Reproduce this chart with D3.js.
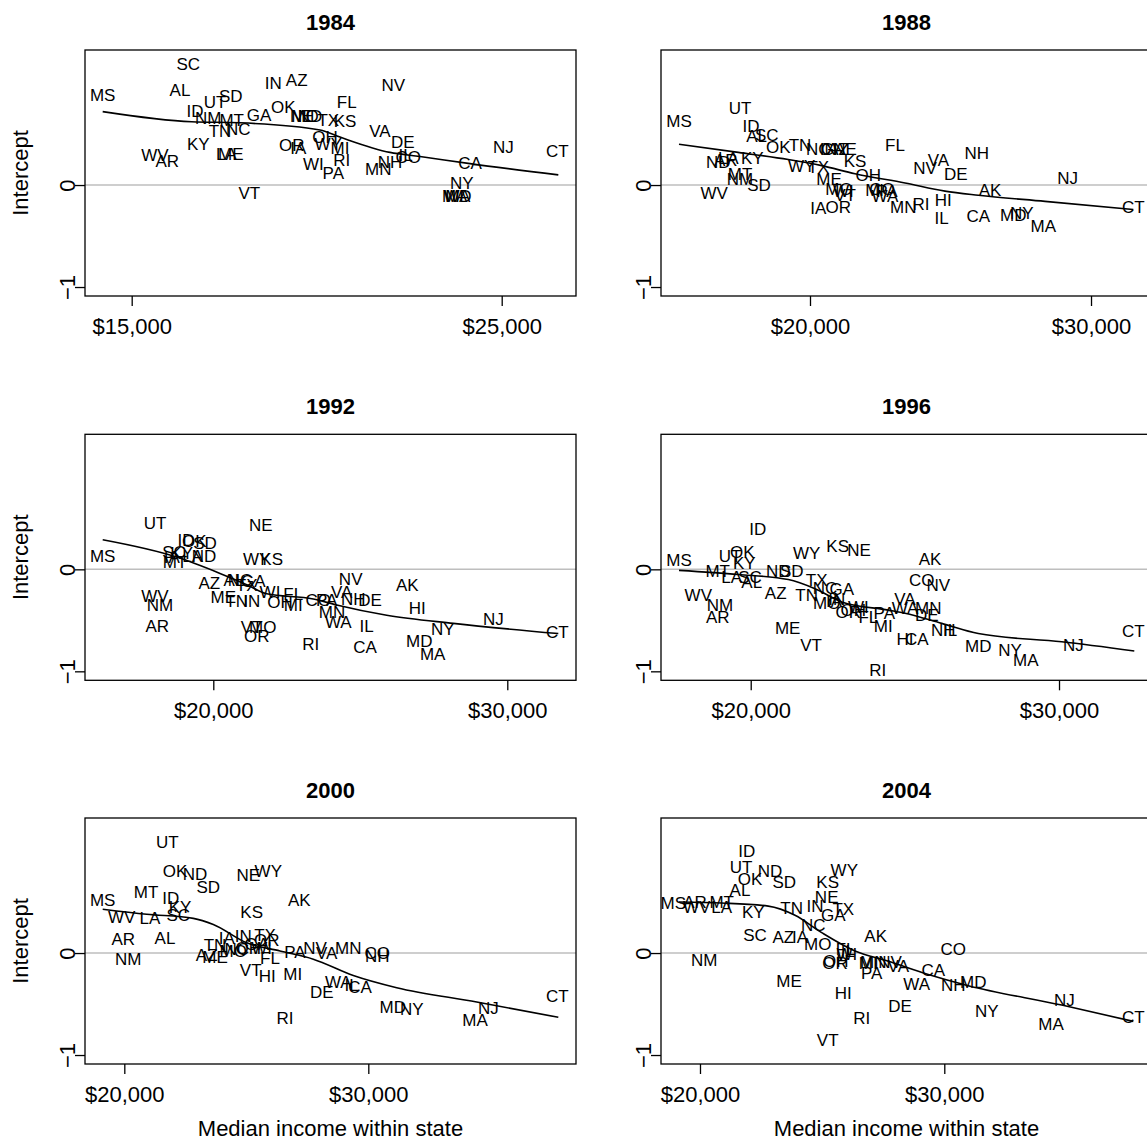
<!DOCTYPE html>
<html>
<head>
<meta charset="utf-8">
<script src="https://cdn.jsdelivr.net/npm/d3@7"></script>
<style>
  body { margin: 0; background: #fff; }
  text { font-family: "Liberation Sans", Arial, Helvetica, sans-serif; }
</style>
</head>
<body>
<script>
// ---- data ----
const years = ['1984', '1988', '1992', '1996', '2000', '2004'];

const states1984 = ['SC','MS','AL','IN','AZ','SD','UT','ID','NM','MT','GA','OK','NE','MO','ND','TX','KS','FL','TN','NC','KY','LA','ME','WV','AR','OR','IA','OH','WI','PA','WY','MI','RI','NV','VA','DE','NH','MN','IL','CO','CA','NJ','CT','NY','MD','MA','WA','VT'];
const income1984 = [16530,14216,16305,18827,19459,17676,17251,16711,17070,17703,18441,19097,19600,19684,19819,20314,20765,20811,17386,17881,16800,17560,17680,15630,15962,19324,19503,20224,19909,20449,20314,20630,20676,22071,21711,22324,21981,21665,22400,22476,24143,25043,26503,23919,23830,23730,23790,18178];
const intercept1984 = [1.19,0.88,0.93,1.00,1.03,0.87,0.82,0.73,0.66,0.64,0.69,0.77,0.68,0.68,0.68,0.64,0.63,0.82,0.53,0.55,0.40,0.31,0.31,0.30,0.24,0.39,0.36,0.47,0.21,0.12,0.40,0.36,0.25,0.98,0.53,0.42,0.23,0.16,0.30,0.28,0.22,0.37,0.33,0.02,-0.11,-0.11,-0.11,-0.08];
const fitX1984 = [14216,16622,17927,20089,20630,21981,22792,24143,26530];
const fitY1984 = [0.72,0.62,0.61,0.54,0.47,0.32,0.28,0.21,0.10];

const states1988 = ['MS','UT','ID','AL','SC','OK','TN','NC','IN','GA','AZ','NE','ND','LA','AR','KY','MT','NM','SD','WV','WY','TX','KS','ME','OH','MO','WI','VT','IA','OR','FL','CO','PA','WA','MI','MN','RI','NV','VA','NH','DE','HI','IL','AK','CA','MD','NY','MA','NJ','CT'];
const income1988 = [15338,17509,17900,18103,18459,18872,19644,20295,20651,20829,21000,21246,16737,17093,17000,17947,17509,17509,18185,16594,19705,20295,21601,20676,22075,21032,21185,21246,20295,21007,23025,22560,22740,22669,22300,23320,23950,24093,24567,25932,25185,24744,24686,26406,25989,27235,27534,28302,29171,31505];
const intercept1988 = [0.63,0.76,0.58,0.48,0.49,0.37,0.39,0.35,0.35,0.35,0.35,0.35,0.23,0.27,0.25,0.27,0.11,0.06,0.00,-0.08,0.19,0.18,0.24,0.06,0.10,-0.04,-0.06,-0.10,-0.22,-0.21,0.39,-0.04,-0.06,-0.11,-0.05,-0.21,-0.18,0.17,0.25,0.32,0.11,-0.15,-0.32,-0.05,-0.30,-0.29,-0.27,-0.40,0.07,-0.21];
const fitX1988 = [15338,17448,19228,20416,21601,23381,24804,25989,28363,31505];
const fitY1988 = [0.40,0.32,0.25,0.19,0.11,0.02,-0.06,-0.10,-0.16,-0.24];

const states1992 = ['MS','UT','NE','ID','OK','SD','SC','KY','ND','IA','MT','LA','WY','KS','AZ','NC','GA','TX','ME','TN','IN','WV','NM','AR','WI','FL','OH','MI','CO','VT','MO','OR','RI','VA','NH','DE','PA','NV','MN','WA','IL','CA','AK','HI','MD','NY','MA','NJ','CT','AL'];
const income1992 = [16238,18017,21612,19071,19350,19718,18663,18925,19684,18585,18697,19300,21476,21986,19864,20908,21361,21136,20340,20796,21306,18017,18187,18095,21929,22721,22269,22721,23571,21306,21680,21476,23313,24367,24762,25330,23857,24673,24037,24252,25218,25160,26599,26939,27007,27803,27463,29524,31701,20700];
const intercept1992 = [0.13,0.46,0.44,0.29,0.28,0.26,0.17,0.16,0.13,0.12,0.07,0.13,0.10,0.10,-0.13,-0.10,-0.11,-0.15,-0.27,-0.31,-0.31,-0.26,-0.35,-0.55,-0.22,-0.24,-0.32,-0.35,-0.30,-0.56,-0.56,-0.65,-0.73,-0.22,-0.29,-0.30,-0.30,-0.09,-0.42,-0.52,-0.55,-0.76,-0.15,-0.38,-0.70,-0.58,-0.83,-0.49,-0.61,-0.10];
const fitX1992 = [16238,18755,20228,21136,21816,23401,24197,25898,28163,31735];
const fitY1992 = [0.29,0.12,-0.04,-0.15,-0.24,-0.29,-0.35,-0.45,-0.53,-0.63];

const states1996 = ['MS','ID','OK','UT','KY','MT','LA','SC','AL','ND','SD','WY','KS','NE','WV','NM','AR','AZ','TN','TX','NC','GA','MO','IN','OH','OR','WI','IA','FL','PA','MI','VA','WA','MN','DE','ME','VT','RI','HI','CA','AK','CO','NV','NH','IL','MD','NY','MA','NJ','CT'];
const income1996 = [17674,20227,19728,19329,19792,18930,19384,19977,20032,20895,21330,21816,22822,23513,18300,19004,18930,20811,21816,22141,22410,22952,22465,22790,23328,23166,23490,22700,23815,24334,24301,25000,25005,25761,25709,21200,21956,24119,25005,25384,25816,25547,26085,26248,26464,27382,28410,28920,30464,32410];
const intercept1996 = [0.09,0.40,0.17,0.13,0.06,-0.02,-0.07,-0.07,-0.12,-0.02,-0.02,0.16,0.23,0.19,-0.25,-0.35,-0.47,-0.23,-0.25,-0.10,-0.18,-0.19,-0.33,-0.29,-0.40,-0.42,-0.37,-0.31,-0.47,-0.43,-0.55,-0.29,-0.38,-0.38,-0.45,-0.57,-0.74,-0.99,-0.68,-0.68,0.10,-0.10,-0.15,-0.59,-0.59,-0.75,-0.79,-0.89,-0.74,-0.60];
const fitX1996 = [17674,19598,21220,22086,22952,24463,25005,26195,27382,30087,32442];
const fitY1996 = [-0.01,-0.05,-0.10,-0.19,-0.32,-0.40,-0.43,-0.53,-0.63,-0.71,-0.80];

const states2000 = ['UT','OK','ND','SD','MT','MS','ID','KY','SC','WV','LA','NE','WY','KS','AK','AR','AL','NM','AZ','ME','TN','IA','IN','TX','GA','OR','NC','OH','WI','MO','FL','VT','HI','MI','DE','RI','PA','NV','VA','MN','CO','NH','WA','IL','CA','MD','NY','NJ','MA','CT'];
const income2000 = [21762,22078,22898,23443,20889,19115,21902,22283,22213,19893,21053,25082,25902,25221,27172,19959,21668,20164,23377,23717,23717,24197,24877,25766,25426,25836,24607,25082,25631,24467,25971,25180,25861,26902,28090,26586,26996,27816,28295,29180,30369,30369,28770,29320,29660,31000,31779,34918,34373,37746];
const intercept2000 = [1.09,0.81,0.78,0.65,0.60,0.52,0.54,0.45,0.37,0.35,0.34,0.77,0.81,0.40,0.52,0.14,0.15,-0.06,-0.02,-0.04,0.08,0.15,0.17,0.18,0.09,0.13,0.04,0.05,0.05,0.02,-0.05,-0.17,-0.22,-0.20,-0.38,-0.64,0.01,0.05,0.00,0.05,0.00,-0.03,-0.28,-0.31,-0.33,-0.53,-0.55,-0.54,-0.66,-0.42];
const fitX2000 = [19115,20918,22828,23648,25016,26381,27746,29385,31164,34443,37787];
const fitY2000 = [0.43,0.38,0.34,0.28,0.10,0.02,-0.06,-0.22,-0.34,-0.48,-0.63];

const states2004 = ['ID','UT','ND','OK','SD','AL','WY','KS','NE','MS','AR','WV','MT','LA','KY','TN','IN','TX','GA','NC','SC','AZ','IA','MO','AK','FL','WI','IL','OR','OH','MI','MN','NV','PA','VA','CA','WA','NH','MD','CO','DE','NY','NJ','MA','CT','NM','ME','HI','RI','VT'];
const income2004 = [21912,21678,22865,22047,23451,21637,25907,25227,25186,18907,19795,19865,20888,20888,22182,23754,24707,25866,25457,24638,22251,23410,24093,24818,27192,25960,26010,26050,25526,25560,26889,27094,27777,27028,28117,29550,28870,30369,31188,30369,28187,31736,34912,34368,37737,20176,23643,25866,26619,25227];
const intercept2004 = [1.00,0.84,0.81,0.73,0.70,0.62,0.82,0.70,0.55,0.49,0.50,0.45,0.50,0.45,0.40,0.44,0.46,0.43,0.37,0.28,0.18,0.16,0.16,0.09,0.17,0.04,-0.01,0.02,-0.10,-0.08,-0.10,-0.09,-0.09,-0.19,-0.13,-0.17,-0.30,-0.31,-0.28,0.04,-0.52,-0.57,-0.46,-0.69,-0.63,-0.07,-0.27,-0.39,-0.64,-0.85];
const fitX2004 = [19140,20888,22796,23889,24982,26345,27708,29345,30982,34806,37737];
const fitY2004 = [0.50,0.49,0.46,0.37,0.20,0.02,-0.08,-0.21,-0.32,-0.51,-0.67];

// axis ranges and ticks for each panel
const xDomains = [[13738, 27008], [14698, 32170], [15636, 32337], [17090, 33016], [18389, 38512], [18404, 38502]];
const xTicks = [[15000, 25000], [20000, 30000], [20000, 30000], [20000, 30000], [20000, 30000], [20000, 30000]];
const yDomain = [-1.088, 1.324];
const yTicks = [-1, 0];

const panels = [
  { states: states1984, income: income1984, intercept: intercept1984, fitX: fitX1984, fitY: fitY1984 },
  { states: states1988, income: income1988, intercept: intercept1988, fitX: fitX1988, fitY: fitY1988 },
  { states: states1992, income: income1992, intercept: intercept1992, fitX: fitX1992, fitY: fitY1992 },
  { states: states1996, income: income1996, intercept: intercept1996, fitX: fitX1996, fitY: fitY1996 },
  { states: states2000, income: income2000, intercept: intercept2000, fitX: fitX2000, fitY: fitY2000 },
  { states: states2004, income: income2004, intercept: intercept2004, fitX: fitX2004, fitY: fitY2004 }
];

// ---- layout ----
const width = 1147;
const height = 1139;
const colLeft = [85, 661];
const rowTop = [50, 434.3, 818];
const plotW = 491;
const plotH = 246;

const svg = d3.select('body')
  .append('svg')
  .attr('width', width)
  .attr('height', height);

const fmt = d3.format('$,');

panels.forEach((p, i) => {
  const left = colLeft[i % 2];
  const top = rowTop[Math.floor(i / 2)];
  const g = svg.append('g').attr('transform', `translate(${left},${top})`);

  const x = d3.scaleLinear().domain(xDomains[i]).range([0, plotW]);
  const y = d3.scaleLinear().domain(yDomain).range([plotH, 0]);

  // zero line
  g.append('line')
    .attr('x1', 0).attr('x2', plotW)
    .attr('y1', y(0)).attr('y2', y(0))
    .attr('stroke', '#bebebe')
    .attr('stroke-width', 1.5);

  // state labels
  g.append('g')
    .selectAll('text')
    .data(p.states)
    .join('text')
    .attr('x', (d, k) => x(p.income[k]))
    .attr('y', (d, k) => y(p.intercept[k]))
    .attr('text-anchor', 'middle')
    .attr('dy', '0.36em')
    .attr('font-size', 17)
    .attr('fill', '#000')
    .text(d => d);

  // fitted curve
  const line = d3.line()
    .x(d => x(d[0]))
    .y(d => y(d[1]))
    .curve(d3.curveMonotoneX);
  g.append('path')
    .datum(p.fitX.map((v, k) => [v, p.fitY[k]]))
    .attr('fill', 'none')
    .attr('stroke', '#000')
    .attr('stroke-width', 1.6)
    .attr('d', line);

  // box
  g.append('rect')
    .attr('width', plotW).attr('height', plotH)
    .attr('fill', 'none')
    .attr('stroke', '#000')
    .attr('stroke-width', 1.3);

  // x axis
  const xa = g.append('g')
    .attr('transform', `translate(0,${plotH})`)
    .call(d3.axisBottom(x).tickValues(xTicks[i]).tickFormat(fmt).tickSize(10).tickPadding(12));
  xa.select('.domain').remove();
  xa.selectAll('line').attr('stroke', '#000').attr('stroke-width', 1.3);
  xa.selectAll('text').attr('font-size', 22).attr('fill', '#000')
    .attr('font-family', '"Liberation Sans", Arial, sans-serif');

  // y axis (labels parallel to the axis)
  const ya = g.append('g')
    .call(d3.axisLeft(y).tickValues(yTicks).tickFormat(d => d < 0 ? '\u2212' + Math.abs(d) : d).tickSize(10));
  ya.select('.domain').remove();
  ya.selectAll('line').attr('stroke', '#000').attr('stroke-width', 1.3);
  ya.selectAll('text')
    .attr('x', 0).attr('dy', 0)
    .attr('transform', 'translate(-18,0) rotate(-90)')
    .attr('text-anchor', 'middle')
    .attr('dominant-baseline', 'central')
    .attr('font-size', 22).attr('fill', '#000')
    .attr('font-family', '"Liberation Sans", Arial, sans-serif');

  // title
  g.append('text')
    .attr('x', plotW / 2).attr('y', -28)
    .attr('text-anchor', 'middle')
    .attr('dominant-baseline', 'central')
    .attr('font-size', 22)
    .attr('font-weight', 'bold')
    .text(years[i]);

  if (i % 2 === 0) {
    g.append('text')
      .attr('transform', `translate(${-65},${plotH / 2}) rotate(-90)`)
      .attr('text-anchor', 'middle')
      .attr('dominant-baseline', 'central')
      .attr('font-size', 22)
      .text('Intercept');
  }
  if (i >= 4) {
    g.append('text')
      .attr('x', plotW / 2).attr('y', plotH + 64)
      .attr('text-anchor', 'middle')
      .attr('dominant-baseline', 'central')
      .attr('font-size', 22)
      .text('Median income within state');
  }
});
</script>
</body>
</html>
